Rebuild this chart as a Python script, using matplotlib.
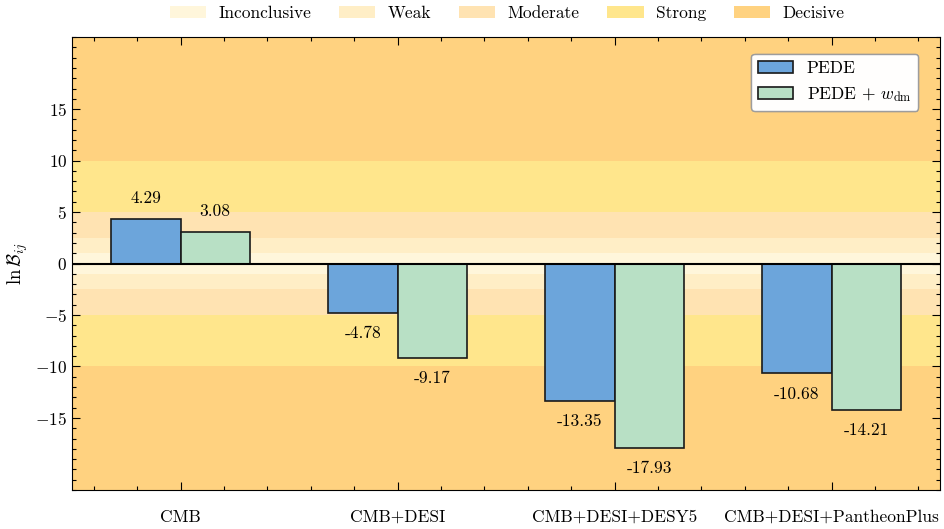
import numpy as np
import matplotlib
matplotlib.use("Agg")
import matplotlib.pyplot as plt
from matplotlib.patches import Patch
from matplotlib.ticker import MultipleLocator

plt.rcParams.update({
    "font.family": "serif",
    "font.serif": ["cmr10", "DejaVu Serif"],
    "mathtext.fontset": "cm",
    "axes.formatter.use_mathtext": True,
    "font.size": 12.5,
    "axes.unicode_minus": True,
})

categories = ["CMB", "CMB+DESI", "CMB+DESI+DESY5", "CMB+DESI+PantheonPlus"]
pede = [4.29, -4.78, -13.35, -10.68]
pede_wdm = [3.08, -9.17, -17.93, -14.21]
series_names = ["PEDE", r"PEDE + $w_{\rm dm}$"]
yticks = [-15, -10, -5, 0, 5, 10, 15]

band_names = ["Inconclusive", "Weak", "Moderate", "Strong", "Decisive"]
band_edges = [0, 1, 2.5, 5, 10, 22]
band_colors = ["#FFF6DB", "#FFEEC6", "#FFE3B2", "#FFE68C", "#FFD280"]

fig = plt.figure(figsize=(9.44, 5.29), dpi=100)
ax = fig.add_axes([0.0763, 0.0737, 0.9195, 0.8563])

ylim = 22
for i, name in enumerate(band_names):
    lo, hi = band_edges[i], band_edges[i + 1]
    ax.axhspan(lo, hi, color=band_colors[i], lw=0, zorder=0)
    ax.axhspan(-hi, -lo, color=band_colors[i], lw=0, zorder=0)

x = np.arange(len(categories))
w = 0.32
ax.bar(x - w / 2, pede, w, color="#6CA5DB", edgecolor="#1a1a1a", lw=1.2,
       label=series_names[0], zorder=3)
ax.bar(x + w / 2, pede_wdm, w, color="#B8E0C5", edgecolor="#1a1a1a", lw=1.2,
       label=series_names[1], zorder=3)
ax.axhline(0, color="black", lw=1.5, zorder=4)

for xs, vals in [(x - w / 2, pede), (x + w / 2, pede_wdm)]:
    for xi, v in zip(xs, vals):
        off = 2.0 if v > 0 else -2.0
        ax.text(xi, v + off, f"{v:.2f}", ha="center", va="center", fontsize=12.5, zorder=5)

ax.set_xlim(-0.5, 3.5)
ax.set_ylim(-ylim, ylim)
ax.set_xticks(x)
ax.set_xticklabels(categories)
ax.set_yticks(yticks)
ax.xaxis.set_minor_locator(MultipleLocator(0.2))
ax.yaxis.set_minor_locator(MultipleLocator(1))
ax.tick_params(which="both", direction="in", top=True, right=True)
ax.tick_params(which="major", length=6, width=0.8)
ax.tick_params(which="minor", length=3, width=0.8)
ax.tick_params(axis="x", which="major", pad=14)
ax.set_ylabel(r"$\ln\mathcal{B}_{ij}$", fontsize=13.5)

leg1 = ax.legend(loc="upper right", bbox_to_anchor=(0.975, 0.9625), borderaxespad=0,
                 fontsize=12.5, fancybox=True, framealpha=0.9, edgecolor="#999999")
ax.add_artist(leg1)

handles = [Patch(facecolor=c, edgecolor="none") for c in band_colors]
fig.legend(handles, band_names, loc="upper center", bbox_to_anchor=(0.537, 1.018),
           ncol=5, frameon=False, fontsize=12.5, handlelength=2.1,
           handletextpad=0.7, columnspacing=1.6)

fig.savefig("out.png", dpi=100)
